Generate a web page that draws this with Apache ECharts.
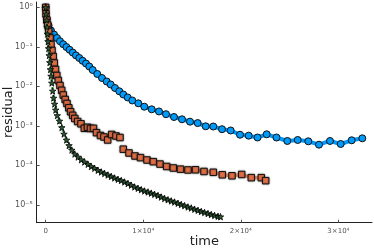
<!DOCTYPE html>
<html>
<head>
<meta charset="utf-8">
<script src="https://cdn.jsdelivr.net/npm/echarts@6/dist/echarts.min.js"></script>
<style>
html,body{margin:0;padding:0;background:#fff;}
#c{width:374px;height:249px;}
</style>
</head>
<body>
<div id="c"></div>
<script>
// ---- data ----
const xTickLabels = ['0', '1×10⁴', '2×10⁴', '3×10⁴'];
const yTickLabels = ['10⁰', '10⁻¹', '10⁻²', '10⁻³', '10⁻⁴', '10⁻⁵'];

const blueTime = [0,110,297,543,851,1158,1466,1794,2122,2450,2778,3106,3444,3782,4131,4469,4818,5289,5771,6253,6663,7103,7544,7954,8405,8877,9492,10107,10865,11613,12331,13151,13971,14791,15580,16400,17179,18071,18963,19916,20808,21710,22653,23657,24764,25830,26917,28013,29141,30238,31365,32452];
const blueResidual = [1.0,0.508,0.348,0.260,0.206,0.168,0.139,0.117,0.0994,0.0845,0.0718,0.0610,0.0524,0.0445,0.0380,0.0319,0.0260,0.0206,0.0163,0.0133,0.01117,0.00910,0.00752,0.00624,0.00524,0.00440,0.00373,0.00306,0.00263,0.00232,0.00198,0.00168,0.00147,0.00128,0.00118,0.000977,0.000966,0.000825,0.000765,0.000598,0.000565,0.000508,0.000613,0.000508,0.000415,0.000440,0.000407,0.000334,0.000415,0.000348,0.000432,0.000485];

const orangeTime = [0,31,113,205,308,441,543,646,769,882,1005,1138,1292,1466,1640,1804,1999,2183,2368,2552,2768,2983,3280,3618,3957,4285,4592,4900,5207,5617,5976,6355,6765,7206,7616,7780,7954,8538,9153,9717,10383,11029,11716,12403,13079,13817,14586,15355,16226,17179,18102,19096,20090,21074,22099,22550];
const orangeResidual = [1.0,0.681,0.480,0.358,0.245,0.168,0.115,0.0811,0.0571,0.0391,0.0268,0.0189,0.0141,0.01054,0.00796,0.00605,0.00466,0.00369,0.00287,0.00228,0.00185,0.00154,0.00129,0.00113,0.000869,0.000922,0.000859,0.000869,0.000673,0.000571,0.000524,0.000440,0.000606,0.000555,0.000508,null,0.000257,0.000206,0.000173,0.000157,0.000137,0.000124,0.000108,0.0000938,0.0000859,0.0000802,0.0000766,0.0000774,0.0000701,0.0000668,0.0000578,0.0000546,0.0000589,0.0000489,0.0000489,0.0000410];

const greenTime = [0,51,92,133,185,236,297,359,420,482,543,625,718,810,912,1025,1189,1415,1650,1876,2132,2388,2675,2983,3311,3649,3987,4336,4674,5012,5361,5699,6037,6386,6724,7062,7411,7749,8087,8436,8774,9112,9461,9799,10137,10486,10824,11162,11511,11849,12187,12536,12874,13212,13561,13899,14237,14586,14924,15262,15611,15949,16287,16636,16974,17312,17661,17917];
const greenResidual = [1.0,0.681,0.480,0.319,0.212,0.137,0.0911,0.0606,0.0403,0.0268,0.0183,0.0122,0.00765,0.00508,0.00358,0.00253,0.00183,0.00133,0.000910,0.000624,0.000440,0.000319,0.000245,0.000194,0.000163,0.000139,0.000122,0.000107,0.0000938,0.0000845,0.0000752,0.0000681,0.0000624,0.0000571,0.0000524,0.0000480,0.0000445,0.0000415,0.0000380,0.0000348,0.0000315,0.0000284,0.0000263,0.0000243,0.0000225,0.0000212,0.0000198,0.0000185,0.0000173,0.0000158,0.0000145,0.0000135,0.0000126,0.0000118,0.0000110,0.0000102,0.00000955,0.00000885,0.00000835,0.00000778,0.00000730,0.00000681,0.00000643,0.00000605,0.00000571,0.00000540,0.00000514,0.00000502];

// ---- chart ----
function pairs(xs, ys){ return xs.map((x,i)=>[x, ys[i]==null ? '-' : ys[i]]); }
const STAR = 'path://M0,-10L2.35,-3.24L9.51,-3.09L3.8,1.24L5.88,8.09L0,4L-5.88,8.09L-3.8,1.24L-9.51,-3.09L-2.35,-3.24Z';

const chart = echarts.init(document.getElementById('c'), null, {renderer:'canvas'});
chart.setOption({
  animation:false,
  backgroundColor:'#ffffff',
  grid:{left:36.7, right:2, top:2, bottom:26.3, containLabel:false, outerBoundsMode:'none'},
  xAxis:{
    type:'value', min:-922, max:33446, splitNumber:3,
    name:'time', nameLocation:'middle', nameGap:12, nameMoveOverlap:false,
    nameTextStyle:{fontFamily:'DejaVu Sans', fontSize:13, color:'#222', verticalAlign:'top'},
    axisLine:{show:true, onZero:false, lineStyle:{color:'#222', width:1}},
    axisTick:{show:true, inside:true, length:3, lineStyle:{color:'#555'}},
    splitLine:{show:false},
    axisLabel:{showMinLabel:false, showMaxLabel:false, margin:5, fontFamily:'DejaVu Sans', fontSize:7, color:'#555',
      formatter:v=>{ if(Math.abs(v%10000)>1e-6) return ''; const k=Math.round(v/10000); return (k>=0&&k<xTickLabels.length)?xTickLabels[k]:''; }}
  },
  yAxis:{
    type:'log', logBase:10, min:3.54e-6, max:1.37,
    name:'residual', nameLocation:'middle', nameGap:22, nameRotate:90, nameMoveOverlap:false,
    nameTextStyle:{fontFamily:'DejaVu Sans', fontSize:13, color:'#222', verticalAlign:'bottom'},
    axisLine:{show:true, onZero:false, lineStyle:{color:'#222', width:1}},
    axisTick:{show:true, inside:true, length:3, lineStyle:{color:'#555'}},
    splitLine:{show:false},
    axisLabel:{showMinLabel:false, showMaxLabel:false, margin:4, fontFamily:'DejaVu Sans', fontSize:8, color:'#555',
      formatter:v=>{ const e=Math.log10(v); const r=Math.round(e); if(Math.abs(e-r)>1e-6) return ''; const k=-r; return (k>=0&&k<yTickLabels.length)?yTickLabels[k]:''; }}
  },
  series:[
    {type:'line', data:pairs(blueTime, blueResidual), symbol:'circle', symbolSize:7,
     lineStyle:{color:'#009AFA', width:4}, itemStyle:{color:'#009AFA', borderColor:'#111', borderWidth:1}, z:2},
    {type:'line', data:pairs(orangeTime, orangeResidual), symbol:'rect', symbolSize:6.5, connectNulls:false,
     lineStyle:{color:'#E26F46', width:3.5, opacity:0.75},
     itemStyle:{color:'#E26F46', borderColor:'#111', borderWidth:1, shadowBlur:2, shadowColor:'rgba(0,0,0,0.45)'}, z:3},
    {type:'line', data:pairs(greenTime, greenResidual), symbol:STAR, symbolSize:6.5,
     lineStyle:{color:'#3EA44E', width:2.5, type:[2,2]},
     itemStyle:{color:'#2f5a35', borderColor:'#000', borderWidth:0.8}, z:4}
  ]
});
</script>
</body>
</html>
